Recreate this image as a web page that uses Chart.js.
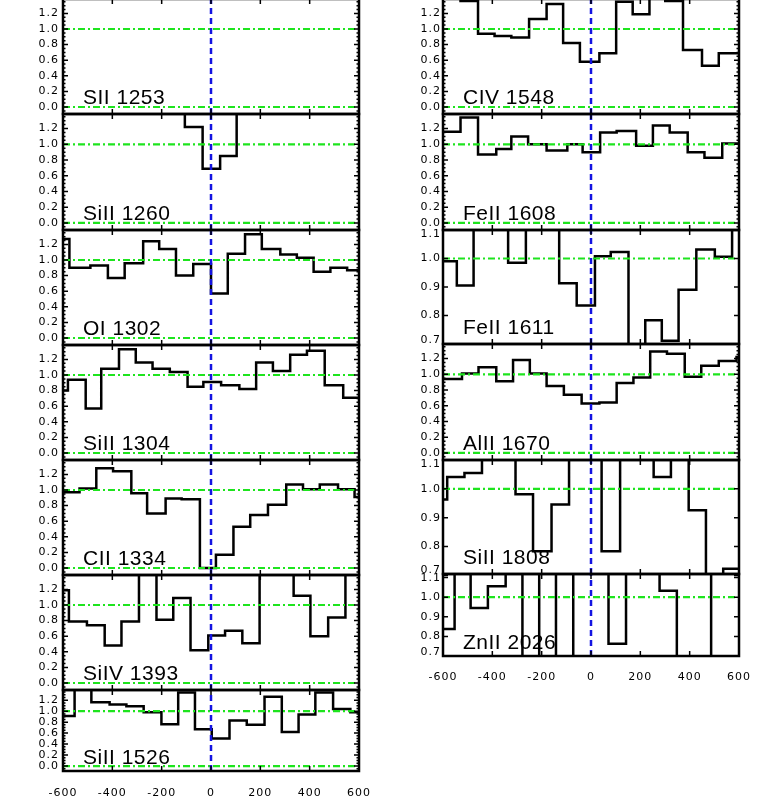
<!doctype html>
<html lang="en">
<head>
<meta charset="utf-8">
<title>Velocity profiles</title>
<script src="https://cdn.jsdelivr.net/npm/chart.js@4.4.1/dist/chart.umd.min.js"></script>
<style>
  body { margin: 0; background: #fff; }
  #page { position: relative; width: 761px; height: 807px; overflow: hidden; }
  #page canvas { position: absolute; }
</style>
</head>
<body>
<div id="page"></div>
<script>
// bin edges (km/s) and normalised flux per bin.
// values above/below a panel's range are just drawn off the frame (clipped)
var vel_SII1253  = [-600, 600];
var flux_SII1253 = [1.5];

var vel_SiII1260  = [-600, -106, -34, 37, 104, 600];
var flux_SiII1260 = [1.5, 1.22, 0.69, 0.85, 1.5];

var vel_OI1302  = [-600, -574, -489, -418, -350, -275, -210, -142, -72, 0, 68, 138, 206, 281, 348, 416, 484, 552, 600];
var flux_OI1302 = [1.27, 0.90, 0.93, 0.77, 0.96, 1.24, 1.14, 0.80, 0.95, 0.57, 1.08, 1.33, 1.14, 1.07, 1.03, 0.85, 0.90, 0.87];

var vel_SiII1304  = [-600, -580, -508, -445, -373, -305, -237, -167, -95, -31, 41, 115, 183, 251, 321, 389, 461, 536, 600];
var flux_SiII1304 = [0.80, 0.94, 0.57, 1.08, 1.33, 1.16, 1.08, 1.04, 0.85, 0.91, 0.87, 0.82, 1.16, 1.05, 1.26, 1.31, 0.87, 0.71];

var vel_CII1334  = [-600, -533, -465, -397, -323, -259, -184, -119, -45, 20, 91, 159, 231, 305, 373, 441, 515, 582, 600];
var flux_CII1334 = [0.97, 1.02, 1.28, 1.24, 0.96, 0.70, 0.89, 0.88, 0.00, 0.17, 0.53, 0.68, 0.81, 1.07, 1.01, 1.07, 1.01, 0.91];

var vel_SiIV1393  = [-600, -576, -503, -431, -363, -292, -221, -153, -83, -11, 57, 127, 197, 266, 335, 403, 475, 545, 600];
var flux_SiIV1393 = [1.19, 0.79, 0.74, 0.48, 0.79, 1.5, 0.81, 1.09, 0.42, 0.61, 0.67, 0.51, 1.5, 1.5, 1.12, 0.60, 0.84, 1.5];

var vel_SiII1526  = [-600, -553, -485, -411, -343, -273, -201, -133, -65, 3, 75, 145, 217, 287, 355, 423, 495, 565, 600];
var flux_SiII1526 = [0.91, 1.39, 1.16, 1.12, 1.09, 0.98, 0.76, 1.34, 0.67, 0.50, 0.83, 0.75, 1.26, 0.62, 0.94, 1.34, 1.04, 0.98];

var vel_CIV1548  = [-600, -529, -458, -391, -323, -251, -180, -113, -45, 34, 102, 169, 237, 301, 373, 450, 518, 600];
var flux_CIV1548 = [1.5, 1.36, 0.94, 0.91, 0.89, 1.13, 1.32, 0.82, 0.58, 0.69, 1.35, 1.19, 1.5, 1.36, 0.73, 0.53, 0.69];

var vel_FeII1608  = [-600, -529, -458, -384, -323, -255, -180, -96, -34, 37, 104, 183, 251, 319, 392, 460, 532, 600];
var flux_FeII1608 = [1.16, 1.34, 0.87, 0.94, 1.10, 1.00, 0.92, 1.00, 0.90, 1.15, 1.17, 0.98, 1.24, 1.15, 0.90, 0.83, 1.01];

var vel_FeII1611  = [-600, -544, -476, -406, -336, -264, -196, -129, -58, 16, 80, 152, 220, 287, 355, 427, 502, 572, 600];
var flux_FeII1611 = [0.99, 0.905, 1.2, 1.2, 0.985, 1.2, 1.2, 0.913, 0.835, 1.008, 1.023, 0.6, 0.783, 0.711, 0.89, 1.032, 1.006, 1.2];

var vel_AlII1670  = [-600, -523, -456, -384, -316, -248, -180, -110, -38, 34, 104, 172, 240, 308, 380, 447, 518, 590, 600];
var flux_AlII1670 = [0.94, 1.01, 1.09, 0.91, 1.18, 1.01, 0.85, 0.74, 0.63, 0.64, 0.89, 0.96, 1.29, 1.26, 0.97, 1.11, 1.17, 1.22];

var vel_SiII1808  = [-600, -583, -513, -442, -374, -306, -235, -160, -89, -23, 43, 118, 186, 254, 324, 396, 466, 536, 600];
var flux_SiII1808 = [0.963, 1.041, 1.055, 1.2, 1.2, 0.981, 0.784, 0.946, 1.2, 1.2, 0.784, 1.2, 1.2, 1.041, 1.2, 0.926, 0.6, 0.723];

var vel_ZnII2026  = [-600, -553, -488, -418, -346, -278, -210, -142, -72, 0, 71, 142, 210, 278, 348, 418, 487, 600];
var flux_ZnII2026 = [0.838, 1.2, 0.945, 1.055, 1.2, 0.6, 1.2, 0.6, 1.2, 1.2, 0.763, 1.2, 1.2, 1.033, 0.6, 0.6, 1.2];

var velTicks = [-600, -400, -200, 0, 200, 400, 600];
var fluxTicksWide = [0.0, 0.2, 0.4, 0.6, 0.8, 1.0, 1.2];
var fluxTicksNarrow = [0.7, 0.8, 0.9, 1.0, 1.1];

var GREEN = 'rgb(30,228,30)';
var BLUE = 'rgb(20,20,225)';
var PAD = 16;
var AXIS_H = 34;

var wide = { min: -0.09, max: 1.385, ticks: fluxTicksWide, minor: 0.05 };

var panels = [
  { name: 'SII 1253',  vel: vel_SII1253,  flux: flux_SII1253,  col: 0, top: -1,  bottom: 114, y: wide },
  { name: 'SiII 1260', vel: vel_SiII1260, flux: flux_SiII1260, col: 0, top: 114, bottom: 230, y: wide },
  { name: 'OI 1302',   vel: vel_OI1302,   flux: flux_OI1302,   col: 0, top: 230, bottom: 345, y: wide },
  { name: 'SiII 1304', vel: vel_SiII1304, flux: flux_SiII1304, col: 0, top: 345, bottom: 460, y: wide },
  { name: 'CII 1334',  vel: vel_CII1334,  flux: flux_CII1334,  col: 0, top: 460, bottom: 575, y: wide },
  { name: 'SiIV 1393', vel: vel_SiIV1393, flux: flux_SiIV1393, col: 0, top: 575, bottom: 690, y: wide },
  { name: 'SiII 1526', vel: vel_SiII1526, flux: flux_SiII1526, col: 0, top: 690, bottom: 771, y: wide, axis: true },

  { name: 'CIV 1548',  vel: vel_CIV1548,  flux: flux_CIV1548,  col: 1, top: -1,  bottom: 114, y: wide },
  { name: 'FeII 1608', vel: vel_FeII1608, flux: flux_FeII1608, col: 1, top: 114, bottom: 230, y: wide },
  { name: 'FeII 1611', vel: vel_FeII1611, flux: flux_FeII1611, col: 1, top: 230, bottom: 344,
    y: { min: 0.70, max: 1.10, ticks: fluxTicksNarrow, minor: 0 } },
  { name: 'AlII 1670', vel: vel_AlII1670, flux: flux_AlII1670, col: 1, top: 344, bottom: 460, y: wide },
  { name: 'SiII 1808', vel: vel_SiII1808, flux: flux_SiII1808, col: 1, top: 460, bottom: 574,
    y: { min: 0.705, max: 1.10, ticks: fluxTicksNarrow, minor: 0 } },
  { name: 'ZnII 2026', vel: vel_ZnII2026, flux: flux_ZnII2026, col: 1, top: 574, bottom: 656,
    y: { min: 0.70, max: 1.118, ticks: fluxTicksNarrow, minor: 0 }, axis: true }
];

function stepPoints(vel, flux) {
  var pts = [];
  for (var i = 0; i < flux.length; i++) pts.push({ x: vel[i], y: flux[i] });
  pts.push({ x: vel[vel.length - 1], y: flux[flux.length - 1] });
  return pts;
}

function hline(y, color, dash, w) {
  return { data: [{ x: -600, y: y }, { x: 600, y: y }], borderColor: color, borderDash: dash,
           borderWidth: w, pointRadius: 0, fill: false, order: 1 };
}

// like IDL, labels that sit on the frame edge get pushed a few px inside
function labelPositions(p) {
  var perPx = (p.y.max - p.y.min) / (p.bottom - p.top);
  var inset = 4 * perPx;
  return p.y.ticks.map(function (v) {
    return { value: Math.min(Math.max(v, p.y.min + inset), p.y.max - inset) };
  });
}

// IDL style frame: inward ticks on all four sides + line label
function framePlugin(p) {
  return {
    id: 'idlFrame',
    beforeDraw: function (chart) { chart.ctx.letterSpacing = '1px'; },
    afterDatasetsDraw: function (chart) {
      var ctx = chart.ctx, a = chart.chartArea, xs = chart.scales.x, ys = chart.scales.y;
      ctx.save();
      ctx.strokeStyle = '#000';
      ctx.lineWidth = 1.5;
      ctx.beginPath();
      velTicks.forEach(function (v) {
        var px = xs.getPixelForValue(v);
        ctx.moveTo(px, a.bottom); ctx.lineTo(px, a.bottom - 5);
        ctx.moveTo(px, a.top); ctx.lineTo(px, a.top + 5);
      });
      p.y.ticks.forEach(function (v) {
        var py = ys.getPixelForValue(v);
        ctx.moveTo(a.left, py); ctx.lineTo(a.left + 5, py);
        ctx.moveTo(a.right, py); ctx.lineTo(a.right - 5, py);
      });
      if (p.y.minor) {
        for (var v = Math.ceil(p.y.min / p.y.minor) * p.y.minor; v < p.y.max; v += p.y.minor) {
          var py = ys.getPixelForValue(v);
          ctx.moveTo(a.left, py); ctx.lineTo(a.left + 2.5, py);
          ctx.moveTo(a.right, py); ctx.lineTo(a.right - 2.5, py);
        }
      }
      ctx.stroke();
      ctx.lineWidth = 2.5;
      ctx.strokeRect(a.left, a.top, a.right - a.left, a.bottom - a.top);

      ctx.fillStyle = '#000';
      ctx.font = '21px "Liberation Sans", Arial, sans-serif';
      ctx.letterSpacing = '0.5px';
      ctx.textAlign = 'left';
      ctx.textBaseline = 'alphabetic';
      ctx.fillText(p.name, a.left + 20, a.bottom - 0.085 * (a.bottom - a.top));
      ctx.restore();
    }
  };
}

Chart.defaults.font.family = '"DejaVu Sans", sans-serif';
Chart.defaults.font.size = 11;
Chart.defaults.color = '#000';

var page = document.getElementById('page');

panels.forEach(function (p) {
  var axisH = p.axis ? AXIS_H : 0;
  var w = 63 + 296 + PAD;
  var h = (p.bottom - p.top) + PAD + (p.axis ? axisH : PAD);
  var cv = document.createElement('canvas');
  cv.width = w; cv.height = h;
  cv.style.width = w + 'px'; cv.style.height = h + 'px';
  cv.style.left = (p.col ? 380 : 0) + 'px';
  cv.style.top = (p.top - PAD) + 'px';
  page.appendChild(cv);

  var datasets = [
    { data: stepPoints(p.vel, p.flux), stepped: 'before', borderColor: '#000', borderWidth: 2.5,
      pointRadius: 0, fill: false, order: 2 },
    hline(1.0, GREEN, [7, 3, 2, 3], 2.2)
  ];
  if (p.y.min < 0) datasets.push(hline(0.0, GREEN, [7, 3, 2, 3], 2.2));
  datasets.push({ data: [{ x: 0, y: p.y.min }, { x: 0, y: p.y.max }], borderColor: BLUE,
                  borderDash: [6, 4], borderWidth: 2.5, pointRadius: 0, fill: false, order: 0 });

  new Chart(cv, {
    type: 'line',
    data: { datasets: datasets },
    options: {
      responsive: false,
      animation: false,
      devicePixelRatio: 1,
      layout: { padding: { top: PAD, right: PAD, bottom: p.axis ? 0 : PAD, left: 0 } },
      plugins: { legend: { display: false }, tooltip: { enabled: false } },
      scales: {
        x: {
          type: 'linear', min: -600, max: 600, display: !!p.axis,
          grid: { display: false, drawTicks: false }, border: { display: false },
          afterBuildTicks: function (s) { s.ticks = velTicks.map(function (v) { return { value: v }; }); },
          afterFit: function (s) { s.height = axisH; s.paddingLeft = 0; s.paddingRight = 0; },
          ticks: { padding: p.col ? 15 : 16, maxRotation: 0, autoSkip: false,
                   callback: function (v) { return String(v); } }
        },
        y: {
          type: 'linear', min: p.y.min, max: p.y.max,
          grid: { display: false, drawTicks: false }, border: { display: false },
          afterBuildTicks: function (s) { s.ticks = labelPositions(p); },
          afterFit: function (s) { s.width = 63; s.paddingTop = 0; s.paddingBottom = 0; },
          ticks: { padding: p.col ? 2 : 4, autoSkip: false,
                   callback: function (v, i) { return p.y.ticks[i].toFixed(1); } }
        }
      }
    },
    plugins: [framePlugin(p)]
  });
});
</script>
</body>
</html>
